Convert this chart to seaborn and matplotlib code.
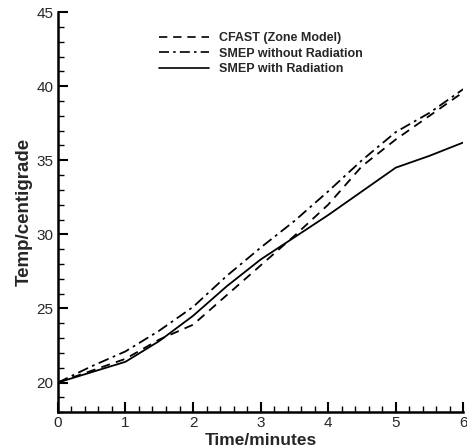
import numpy as np
import pandas as pd
import matplotlib
matplotlib.use("Agg")
import matplotlib.pyplot as plt
from matplotlib.ticker import MultipleLocator
import seaborn as sns

time_min = [0, 0.5, 1, 1.5, 2, 2.5, 3, 3.5, 4, 4.5, 5, 5.5, 6]
cfast = [20, 20.8, 21.6, 22.9, 23.9, 25.9, 27.9, 29.9, 32.0, 34.6, 36.4, 38.0, 39.6]
smep_no_rad = [20, 21.1, 22.1, 23.5, 25.1, 27.2, 29.1, 30.9, 32.9, 35.0, 36.9, 38.2, 39.8]
smep_rad = [20, 20.7, 21.4, 22.8, 24.5, 26.5, 28.3, 29.8, 31.3, 32.9, 34.5, 35.3, 36.2]
labels = ["CFAST (Zone Model)", "SMEP without Radiation", "SMEP with Radiation"]

df = pd.DataFrame({
    "t": time_min * 3,
    "T": cfast + smep_no_rad + smep_rad,
    "model": [labels[0]] * len(time_min) + [labels[1]] * len(time_min) + [labels[2]] * len(time_min),
})

sns.set_style("ticks")
plt.rcParams["font.family"] = ["Liberation Sans", "DejaVu Sans"]

fig = plt.figure(figsize=(4.67, 4.48), dpi=100)
ax = fig.add_axes([0.124, 0.080, 0.868, 0.893])

sns.lineplot(data=df, x="t", y="T", hue="model", style="model",
             palette=["black"] * 3,
             dashes={labels[0]: (5, 3.5), labels[1]: (6, 2.5, 1.5, 2.5), labels[2]: ""},
             linewidth=1.3, ax=ax, legend=True)

ax.set_xlim(0, 6)
ax.set_ylim(18, 45)
ax.xaxis.set_major_locator(MultipleLocator(1))
ax.xaxis.set_minor_locator(MultipleLocator(0.2))
ax.yaxis.set_major_locator(MultipleLocator(5))
ax.yaxis.set_minor_locator(MultipleLocator(1))
ax.tick_params(which="major", direction="in", length=7, width=1.5, labelsize=11, pad=3, color="black")
ax.tick_params(which="minor", direction="in", length=4, width=1.0, color="black")
for s in ["top", "right"]:
    ax.spines[s].set_visible(False)
for s in ["left", "bottom"]:
    ax.spines[s].set_linewidth(1.8)
    ax.spines[s].set_color("black")

ax.set_xlabel("Time/minutes", fontsize=12.5, fontweight="bold", labelpad=2)
ax.set_ylabel("Temp/centigrade", fontsize=13.5, fontweight="bold", labelpad=3)

leg = ax.legend(loc="upper left", bbox_to_anchor=(0.235, 0.966), frameon=False,
                prop={"size": 9, "weight": "bold"}, handlelength=4.0,
                labelspacing=0.3, handletextpad=0.8, borderpad=0)
for line in leg.get_lines():
    line.set_linewidth(1.2)

fig.savefig("out.png", dpi=100)
